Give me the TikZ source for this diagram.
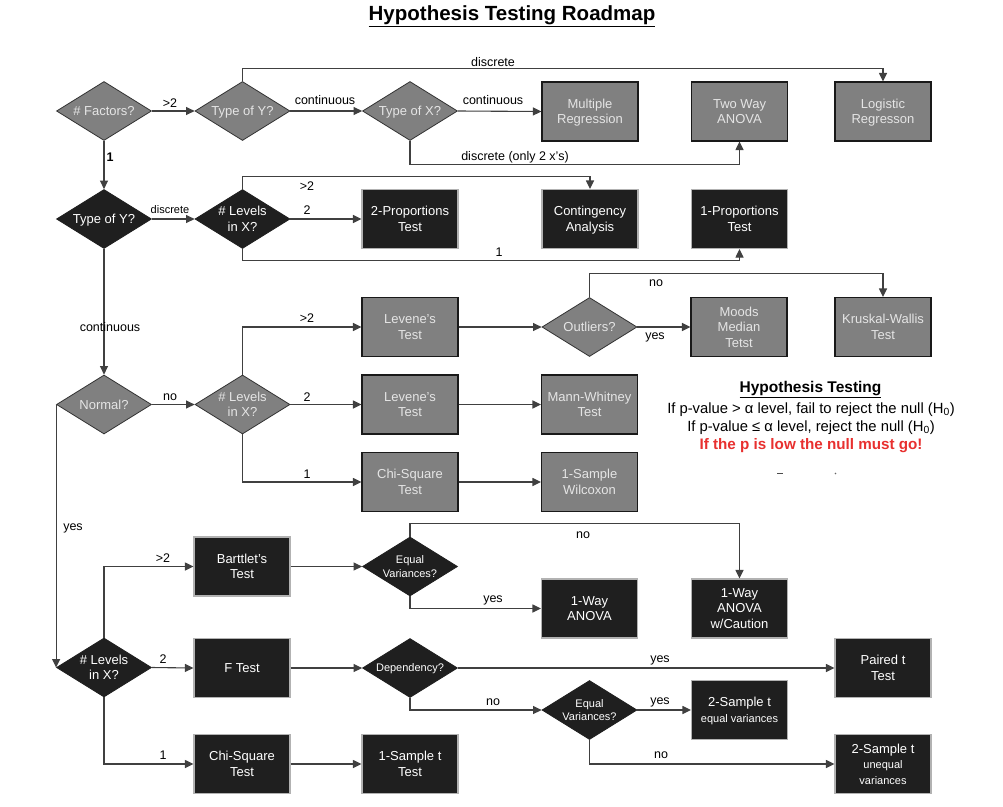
\documentclass[tikz,border=0pt]{standalone}
\usepackage{fontspec}
\setmainfont{Liberation Sans}
\usetikzlibrary{shapes.geometric,arrows.meta}
\definecolor{gfill}{HTML}{808080}
\definecolor{bfill}{HTML}{1F1F1F}
\definecolor{lncol}{HTML}{404040}
\definecolor{redt}{HTML}{E8302F}
\begin{document}
\begin{tikzpicture}[x=1pt,y=-1pt,
 base/.style={inner sep=0pt, align=center, text depth=0pt, font=\fontsize{13}{15.5}\selectfont},
 gbx/.style={base, rectangle, draw=black!90, line width=1.1pt, fill=gfill, text=white!90!black, minimum width=96pt, minimum height=59pt},
 bbx/.style={base, rectangle, draw=black!30, line width=1.1pt, fill=bfill, text=white, minimum width=96pt, minimum height=59pt},
 gdm/.style={base, diamond, aspect=1.61, draw=black!80, line width=0.8pt, fill=gfill, text=white!90!black, minimum width=95pt, minimum height=59pt},
 bdm/.style={base, diamond, aspect=1.61, draw=bfill, line width=0.8pt, fill=bfill, text=white, minimum width=95pt, minimum height=59pt},
 smalltxt/.style={font=\fontsize{11}{13.3}\selectfont},
 arr/.style={draw=lncol, line width=1.1pt, -{Triangle[length=8.5pt,width=8pt]}},
 lbl/.style={inner sep=0pt, font=\fontsize{12.5}{14}\selectfont, text=black},
 slbl/.style={inner sep=0pt, font=\fontsize{11}{13}\selectfont, text=black},
 legtx/.style={inner sep=0pt, font=\fontsize{14.8}{17}\selectfont, text=black},
]
\useasboundingbox (0,0) rectangle (1003,806);
\fill[white] (0,0) rectangle (1003,806);

% title
\node[inner sep=0pt, font=\bfseries\fontsize{20.5}{24}\selectfont] (title) at (512,16.5) {\underline{Hypothesis Testing Roadmap}};

% row 1
\node[gdm] (fac) at (104,111) {\# Factors?};
\node[gdm] (ty1) at (242.5,111) {Type of Y?};
\node[gdm] (tx) at (410,111) {Type of X?};
\node[gbx] (mreg) at (590,111.5) {Multiple\\Regression};
\node[gbx] (aov2) at (739.5,111.5) {Two Way\\ANOVA};
\node[gbx] (logit) at (883,111.5) {Logistic\\Regresson};

% row 2
\node[bdm] (ty2) at (104,219) {Type of Y?};
\node[bdm] (lv1) at (242.5,219) {\# Levels\\in X?};
\node[bbx] (prop2) at (410,219) {2-Proportions\\Test};
\node[bbx] (cont) at (590,219) {Contingency\\Analysis};
\node[bbx] (prop1) at (739.5,219) {1-Proportions\\Test};

% non-normal block
\node[gdm] (norm) at (104,404.5) {Normal?};
\node[gdm] (lv2) at (242.5,404.5) {\# Levels\\in X?};
\node[gbx] (lev1) at (410,327) {Levene's\\Test};
\node[gbx] (lev2) at (410,404.5) {Levene's\\Test};
\node[gbx] (chi1) at (410,482) {Chi-Square\\Test};
\node[gdm] (out) at (589.5,327) {Outliers?};
\node[gbx] (moods) at (739,327) {Moods\\Median\\Tetst};
\node[gbx] (kw) at (883,327) {Kruskal-Wallis\\Test};
\node[gbx] (mw) at (589.5,404.5) {Mann-Whitney\\Test};
\node[gbx] (wil) at (589.5,482) {1-Sample\\Wilcoxon};

% normal block
\node[bdm] (lv3) at (104,667.5) {\# Levels\\in X?};
\node[bbx] (bart) at (242,566.5) {Barttlet's\\Test};
\node[bbx] (ft) at (242,668) {F Test};
\node[bbx] (chi2) at (242,764) {Chi-Square\\Test};
\node[bdm,smalltxt] (eq1) at (410,566.5) {Equal\\Variances?};
\node[bdm,smalltxt] (dep) at (410,668) {Dependency?};
\node[bbx] (ost) at (410,764) {1-Sample t\\Test};
\node[bbx] (aov1) at (589.5,608.5) {1-Way\\ANOVA};
\node[bbx] (aovc) at (739.5,608.5) {1-Way\\ANOVA\\w/Caution};
\node[bbx] (paired) at (883,668) {Paired t\\Test};
\node[bdm,smalltxt] (eq2) at (589.5,710) {Equal\\Variances?};
\node[bbx] (st2e) at (739.5,710) {2-Sample t\\{\fontsize{11}{13}\selectfont equal variances}};
\node[bbx] (st2u) at (883,764) {2-Sample t\\{\fontsize{11}{13}\selectfont unequal}\\{\fontsize{11}{13}\selectfont variances}};

% connectors row 1
\draw[arr] (fac.east) -- (ty1.west);
\draw[arr] (ty1.east) -- (tx.west);
\draw[arr] (tx.east) -- (mreg.west);
\draw[arr] (ty1.north) -- ++(0,-13) -| (logit.north);
\draw[arr] (tx.south) -- ++(0,24) -| (aov2.south);
\draw[arr] (fac.south) -- (ty2.north);
% row 2
\draw[arr] (ty2.east) -- (lv1.west);
\draw[arr] (lv1.north) -- ++(0,-13) -| (cont.north);
\draw[arr] (lv1.east) -- (prop2.west);
\draw[arr] (lv1.south) -- ++(0,12) -| (prop1.south);
\draw[arr] (ty2.south) -- (norm.north);
% non-normal
\draw[arr] (norm.east) -- (lv2.west);
\draw[arr] (lv2.north) |- (lev1.west);
\draw[arr] (lv2.east) -- (lev2.west);
\draw[arr] (lv2.south) |- (chi1.west);
\draw[arr] (lev1.east) -- (out.west);
\draw[arr] (out.east) -- (moods.west);
\draw[arr] (out.north) -- ++(0,-24) -| (kw.north);
\draw[arr] (lev2.east) -- (mw.west);
\draw[arr] (chi1.east) -- (wil.west);
% normal
\draw[arr] (norm.west) -- (lv3.west);
\draw[arr] (lv3.north) |- (bart.west);
\draw[arr] (lv3.east) -- (ft.west);
\draw[arr] (lv3.south) |- (chi2.west);
\draw[arr] (bart.east) -- (eq1.west);
\draw[arr] (ft.east) -- (dep.west);
\draw[arr] (chi2.east) -- (ost.west);
\draw[arr] (eq1.south) |- (aov1.west);
\draw[arr] (eq1.north) -- ++(0,-13) -| (aovc.north);
\draw[arr] (dep.east) -- (paired.west);
\draw[arr] (dep.south) |- (eq2.west);
\draw[arr] (eq2.east) -- (st2e.west);
\draw[arr] (eq2.south) |- (st2u.west);

% connector labels
\node[lbl] (l01) at (170,103) {>2};
\node[lbl] (l02) at (325,100) {continuous};
\node[lbl] (l03) at (493,100) {continuous};
\node[lbl] (l04) at (493,62) {discrete};
\node[lbl] (l05) at (515,157) {discrete (only 2 x's)};
\node[lbl,font=\bfseries\fontsize{12.5}{14}\selectfont] (l06) at (110,157) {1};
\node[slbl] (l07) at (170,210) {discrete};
\node[lbl] (l08) at (307,186) {>2};
\node[lbl] (l09) at (307,210) {2};
\node[lbl] (l10) at (499,252) {1};
\node[lbl] (l11) at (110,327) {continuous};
\node[lbl] (l12) at (170,397) {no};
\node[lbl] (l13) at (307,318) {>2};
\node[lbl] (l14) at (307,397) {2};
\node[lbl] (l15) at (307,474) {1};
\node[lbl] (l16) at (655,337) {yes};
\node[lbl] (l17) at (656,283) {no};
\node[lbl] (l18) at (73,528) {yes};
\node[lbl] (l19) at (163,558) {>2};
\node[lbl] (l20) at (163,659) {2};
\node[lbl] (l21) at (163,755) {1};
\node[lbl] (l22) at (493,600) {yes};
\node[lbl] (l23) at (583,535) {no};
\node[lbl] (l24) at (660,660) {yes};
\node[lbl] (l25) at (493,702) {no};
\node[lbl] (l26) at (660,702) {yes};
\node[lbl] (l27) at (661,755) {no};

% legend
\node[inner sep=0pt, font=\bfseries\fontsize{15.5}{18}\selectfont] (legt) at (810.5,390) {\underline{Hypothesis Testing}};
\node[legtx] (leg1) at (811,409.5) {If p-value > α level, fail to reject the null (H\textsubscript{0})};
\node[legtx] (leg2) at (811,427.5) {If p-value ≤ α level, reject the null (H\textsubscript{0})};
\node[legtx, font=\bfseries\fontsize{15.2}{17}\selectfont, text=redt] (leg3) at (811,445.5) {If the p is low the null must go!};
\draw[black!70, line width=1pt] (777,473.5) -- (783,473.5);
\fill[black!60] (835.5,473.5) circle (0.8);
\end{tikzpicture}
\end{document}
